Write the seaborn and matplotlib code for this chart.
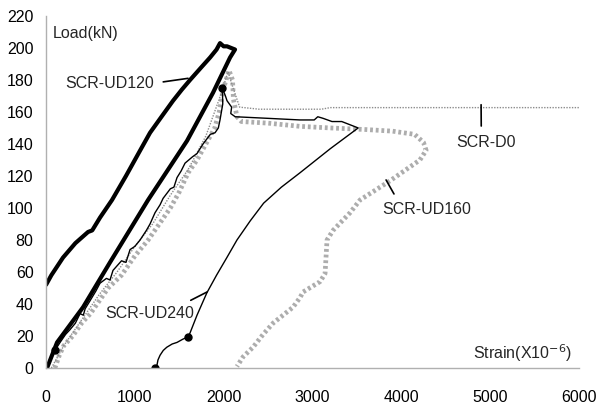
import numpy as np
import pandas as pd
import seaborn as sns
import matplotlib.pyplot as plt

# SCR-UD120 (thick black loop)
ud120_strain = [0, 60, 191, 330, 473, 520, 608, 743, 900, 1050, 1171, 1300, 1430, 1530, 1622,
                1750, 1847, 1920, 1959, 2000, 2038, 2128, 2072, 1880, 1588, 1149, 720, 417, 124, 11]
ud120_load = [52, 58, 69, 78, 85, 86, 94, 105, 120, 135, 147, 157, 167, 174, 180,
              188, 194, 199, 203, 201, 201, 199, 194, 172, 142, 105, 66, 38, 16, 0]

# SCR-UD240 (thin black, jagged loading then smooth unloading)
ud240_strain = [0, 45, 100, 158, 220, 270, 300, 330, 383, 420, 440, 495, 560, 608, 680, 720, 754,
                850, 900, 946, 1000, 1059, 1130, 1171, 1227, 1284, 1318, 1400, 1440, 1475, 1520,
                1565, 1650, 1700, 1768, 1850, 1903, 1940, 1959, 1990, 1985, 2020, 2038, 2090,
                2080, 2130, 2500, 2860, 3020, 3060, 3120, 3220, 3330, 3515, 3200, 2860, 2650,
                2450, 2300, 2150, 2036, 1920, 1811, 1700, 1622, 1600, 1540, 1475, 1420, 1360,
                1320, 1284, 1260, 1250, 1227]
ud240_load = [0, 5, 11, 16, 21, 24, 26, 28, 34, 33, 37, 42, 48, 53, 56, 55, 61,
              67, 66, 74, 76, 80, 86, 90, 97, 102, 106, 112, 113, 119, 123,
              128, 132, 134, 140, 146, 147, 150, 155, 165, 175, 170, 167, 163,
              159, 157, 156, 155, 155, 157, 156, 154, 154, 150, 137, 122, 113,
              103, 92, 80, 69, 58, 47, 33, 22, 19.5, 18, 16, 15, 13,
              11, 8, 5, 2, 0]
ud240_marks = [2, 40, 65, 74]

# SCR-UD160 (gray stipple)
ud160_strain = [100, 150, 200, 300, 400, 500, 600, 700, 850, 1000, 1150, 1300, 1400, 1500, 1600,
                1700, 1800, 1900, 1950, 2000, 2060, 2100, 2110, 2150, 2200, 2500, 2860, 3200,
                3600, 3900, 4150, 4250, 4280, 4210, 3874, 3536, 3423, 3232, 3164, 3142, 3086,
                2894, 2860, 2781, 2556, 2444, 2331, 2219, 2150]
ud160_load = [0, 8, 14, 20, 28, 34, 42, 50, 58, 70, 80, 92, 100, 110, 122,
              130, 140, 150, 160, 175, 186, 180, 168, 157, 154, 153, 151, 150,
              149, 148, 146, 141, 136, 130, 117, 105, 97, 86, 80, 59, 54,
              47.5, 44, 38, 28, 21, 13, 7, 1]

# SCR-D0 (thin dotted gray)
d0_strain = [60, 200, 400, 600, 800, 1000, 1200, 1400, 1600, 1800, 1950, 2050, 2100, 2180,
             2400, 3100, 3200, 6000]
d0_load = [0, 14, 30, 46, 60, 76, 90, 108, 124, 145, 168, 185, 176, 163,
           161.7, 161.7, 162.7, 162.7]

labels = ["SCR-UD120", "SCR-D0", "SCR-UD160", "SCR-UD240"]
label_text_pos = [(721, 178), (4955, 141), (4290, 99), (1171, 34)]
label_point = [(1599, 181), (4899, 164.5), (3829, 117.5), (1813, 47.5)]
label_relpos = [(1.0, 0.5), (0.42, 1.0), (0.18, 1.0), (0.83, 1.0)]

sns.set_style("white")
plt.rcParams['font.family'] = ['Liberation Sans', 'DejaVu Sans']

fig = plt.figure(figsize=(5.98, 4.08), dpi=100)
ax = fig.add_axes([0.077, 0.098, 0.891, 0.863])

df160 = pd.DataFrame({"x": ud160_strain, "y": ud160_load})
sns.lineplot(data=df160, x="x", y="y", sort=False, estimator=None, ax=ax,
             color="0.68", lw=3.4, linestyle=(0, (0.6, 0.6)))
dfd0 = pd.DataFrame({"x": d0_strain, "y": d0_load})
sns.lineplot(data=dfd0, x="x", y="y", sort=False, estimator=None, ax=ax,
             color="0.55", lw=1.0, linestyle=(0, (1, 1)))
df240 = pd.DataFrame({"x": ud240_strain, "y": ud240_load})
sns.lineplot(data=df240, x="x", y="y", sort=False, estimator=None, ax=ax,
             color="black", lw=1.0)
ax.plot(np.array(ud240_strain)[ud240_marks], np.array(ud240_load)[ud240_marks], "o",
        color="black", ms=5)
df120 = pd.DataFrame({"x": ud120_strain, "y": ud120_load})
sns.lineplot(data=df120, x="x", y="y", sort=False, estimator=None, ax=ax,
             color="black", lw=3.0)

for txt, tp, pt, rp in zip(labels, label_text_pos, label_point, label_relpos):
    ax.annotate(txt, xy=pt, xytext=tp, ha="center", va="center", fontsize=11.5,
                arrowprops=dict(arrowstyle="-", color="black", lw=1.2,
                                relpos=rp, shrinkA=4, shrinkB=0))

ax.text(450, 209, "Load(kN)", ha="center", va="center", fontsize=11.5)
ax.text(5371, 9.4, r"Strain(X10$^{-6}$)", ha="center", va="center", fontsize=11.5)

ax.set_xlim(0, 6000)
ax.set_ylim(0, 220)
ax.set_xticks(range(0, 6001, 1000))
ax.set_yticks(range(0, 221, 20))
ax.set_xlabel("")
ax.set_ylabel("")
for s in ["top", "right"]:
    ax.spines[s].set_visible(False)
for s in ["left", "bottom"]:
    ax.spines[s].set_color("#b0b0b0")
    ax.spines[s].set_linewidth(1.0)
ax.tick_params(axis="both", direction="in", length=4, width=1, color="#b0b0b0",
               labelsize=11.5, labelcolor="black")
ax.tick_params(axis="x", pad=16)
ax.tick_params(axis="y", pad=9)

plt.savefig("out.png", dpi=100)
